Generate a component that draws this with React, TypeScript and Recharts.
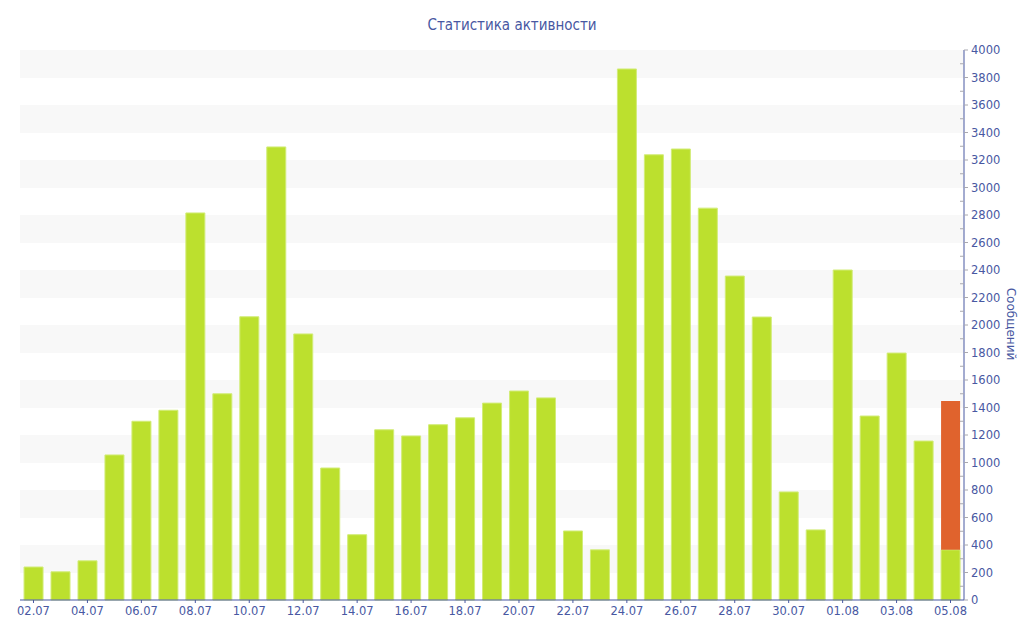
import React from "react";
import { Bar, BarChart, CartesianGrid, XAxis, YAxis } from "recharts";

const days = [
  "02.07", "03.07", "04.07", "05.07", "06.07", "07.07", "08.07", "09.07", "10.07", "11.07",
  "12.07", "13.07", "14.07", "15.07", "16.07", "17.07", "18.07", "19.07", "20.07", "21.07",
  "22.07", "23.07", "24.07", "25.07", "26.07", "27.07", "28.07", "29.07", "30.07", "31.07",
  "01.08", "02.08", "03.08", "04.08", "05.08",
];

const messages = [
  240, 205, 285, 1055, 1300, 1380, 2815, 1500, 2060, 3295,
  1935, 960, 475, 1238, 1193, 1275, 1325, 1432, 1520, 1470,
  502, 365, 3862, 3238, 3280, 2850, 2356, 2058, 786, 510,
  2400, 1338, 1796, 1156, 365,
];

// only the current day has a "today" part on top
const today = [
  0, 0, 0, 0, 0, 0, 0, 0, 0, 0,
  0, 0, 0, 0, 0, 0, 0, 0, 0, 0,
  0, 0, 0, 0, 0, 0, 0, 0, 0, 0,
  0, 0, 0, 0, 1082,
];

const yTicks = Array.from({ length: 41 }, (_, i) => i * 100);
const stripeLevels = Array.from({ length: 21 }, (_, i) => i * 200);

const data = days.map((d, i) => ({ day: d, messages: messages[i], today: today[i] }));

const BLUE = "#4858a2";
const FONT = "'DejaVu Sans', Verdana, sans-serif";

function YTick(props: any) {
  const { x, y, payload } = props;
  const axisX = x - 7;
  const v = payload.value as number;
  if (v % 200 !== 0) {
    return <line x1={axisX - 4} x2={axisX} y1={y} y2={y} stroke="#a8a8b0" />;
  }
  return (
    <g>
      <line x1={axisX} x2={axisX + 4} y1={y} y2={y} stroke="#a8a8b0" />
      <text x={x} y={y} dy={4} fill={BLUE} fontSize={11.5} fontFamily={FONT}>
        {v}
      </text>
    </g>
  );
}

export default function App() {
  return (
    <div style={{ position: "absolute", left: 0, top: 0, width: 1024, height: 640, background: "#fff" }}>
      <div
        style={{
          position: "absolute",
          top: 16,
          left: 0,
          width: 1024,
          textAlign: "center",
          color: BLUE,
          fontFamily: "'DejaVu Sans Condensed', 'DejaVu Sans', sans-serif",
          fontStretch: "condensed",
          fontSize: 15,
        }}
      >
        Статистика активности
      </div>
      <div
        style={{
          position: "absolute",
          left: 1011,
          top: 324,
          transform: "translate(-50%, -50%) rotate(90deg)",
          color: BLUE,
          fontFamily: FONT,
          fontSize: 12,
          whiteSpace: "nowrap",
        }}
      >
        Сообщений
      </div>
      <BarChart
        width={1024}
        height={640}
        data={data}
        margin={{ top: 50, right: 10, bottom: 0, left: 20 }}
        barCategoryGap="15%"
      >
        <CartesianGrid
          vertical={false}
          stroke="none"
          horizontalValues={stripeLevels}
          horizontalFill={["#f8f8f8", "#ffffff"]}
          fillOpacity={1}
        />
        <XAxis
          dataKey="day"
          interval={1}
          height={40}
          stroke={BLUE}
          tickSize={3}
          tickMargin={4}
          tick={{ fill: BLUE, fontSize: 11.5, fontFamily: FONT }}
        />
        <YAxis
          orientation="right"
          width={50}
          domain={[0, 4000]}
          ticks={yTicks}
          interval={0}
          stroke={BLUE}
          tickLine={false}
          tickSize={4}
          tickMargin={3}
          tick={<YTick />}
        />
        <Bar dataKey="messages" stackId="a" fill="#bce02e" stroke="#d2ec78" strokeWidth={1} isAnimationActive={false} />
        <Bar dataKey="today" stackId="a" fill="#e0632d" isAnimationActive={false} />
      </BarChart>
    </div>
  );
}
